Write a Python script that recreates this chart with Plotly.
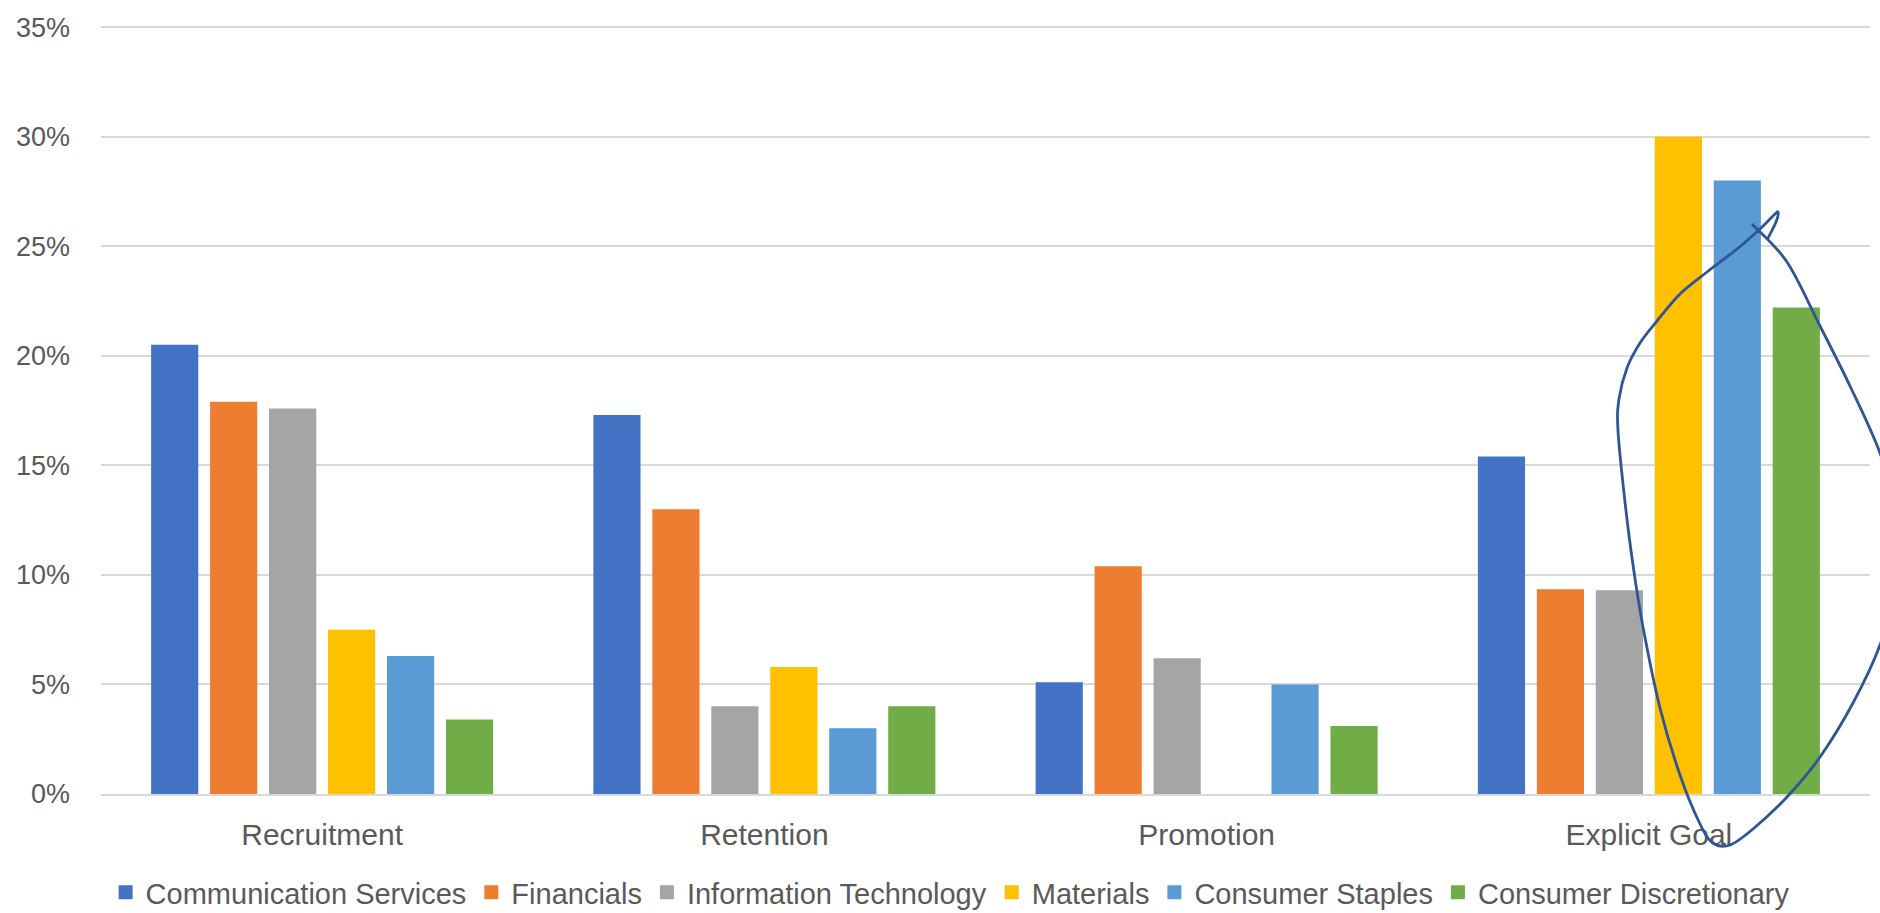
import plotly.graph_objects as go

categories = ["Recruitment", "Retention", "Promotion", "Explicit Goal"]
series_names = ["Communication Services", "Financials", "Information Technology",
                "Materials", "Consumer Staples", "Consumer Discretionary"]
communication_services = [0.205, 0.173, 0.051, 0.154]
financials = [0.179, 0.130, 0.104, 0.0935]
information_technology = [0.176, 0.040, 0.062, 0.093]
materials = [0.075, 0.058, 0.0, 0.300]
consumer_staples = [0.063, 0.030, 0.050, 0.280]
consumer_discretionary = [0.034, 0.040, 0.031, 0.222]
y_ticks = [0, 0.05, 0.10, 0.15, 0.20, 0.25, 0.30, 0.35]

colors = ["#4472C4", "#ED7D31", "#A5A5A5", "#FFC000", "#5B9BD5", "#70AD47"]
all_series = [communication_services, financials, information_technology,
              materials, consumer_staples, consumer_discretionary]

W, H = 1880, 913
L, R, T, B = 101, 10, 25, 119
PW, PH = W - L - R, H - T - B
YMAX = 0.351

fig = go.Figure()
for name, vals, c in zip(series_names, all_series, colors):
    fig.add_trace(go.Bar(name=name, x=categories, y=vals, showlegend=False,
                         marker=dict(color=c, line=dict(width=0))))
# legend entries with larger square swatches
for name, c in zip(series_names, colors):
    fig.add_trace(go.Scatter(name=name, x=[categories[0]], y=[None], mode="markers",
                             marker=dict(symbol="square", size=14, color=c),
                             hoverinfo="skip"))

# Hand-drawn loop annotation (pixel positions -> paper coordinates)
loop_px = [(1752, 224), (1787, 262), (1820, 326), (1850, 386), (1880, 453), (1900, 520),
           (1902, 570), (1880, 645), (1853, 703), (1820, 757), (1787, 797), (1753, 829),
           (1730, 845), (1713, 843), (1700, 824), (1680, 775), (1660, 708), (1643, 627),
           (1633, 565), (1625, 502), (1618, 431), (1619, 399), (1627, 368), (1640, 343),
           (1657, 321), (1680, 294), (1707, 272), (1737, 249), (1760, 229), (1773, 216),
           (1778, 212), (1776, 222), (1767, 240)]


def to_paper(p):
    return ((p[0] - L) / PW, (H - B - p[1]) / PH)


pts = [to_paper(p) for p in loop_px]
path = "M{:.5f},{:.5f}".format(*pts[0])
n = len(pts)
for i in range(n - 1):
    p0 = pts[i - 1] if i > 0 else pts[i]
    p1 = pts[i]
    p2 = pts[i + 1]
    p3 = pts[i + 2] if i + 2 < n else pts[i + 1]
    c1 = (p1[0] + (p2[0] - p0[0]) / 6, p1[1] + (p2[1] - p0[1]) / 6)
    c2 = (p2[0] - (p3[0] - p1[0]) / 6, p2[1] - (p3[1] - p1[1]) / 6)
    path += " C{:.5f},{:.5f} {:.5f},{:.5f} {:.5f},{:.5f}".format(c1[0], c1[1], c2[0], c2[1], p2[0], p2[1])

fig.add_shape(type="path", path=path, xref="paper", yref="paper",
              line=dict(color="#2F5597", width=2.8), layer="above")

font_family = "Liberation Sans, Arial, sans-serif"
fig.update_layout(
    width=W, height=H,
    margin=dict(l=L, r=R, t=T, b=B, autoexpand=False),
    paper_bgcolor="white", plot_bgcolor="white",
    barmode="group", bargap=0.2, bargroupgap=0.2,
    font=dict(family=font_family, size=28, color="#595959"),
    showlegend=True,
    legend=dict(orientation="h", x=0.480, xanchor="center", y=-0.128, yanchor="middle",
                font=dict(size=29, color="#595959"), itemwidth=30, traceorder="normal"),
    xaxis=dict(showgrid=False, showline=True, linecolor="#D9D9D9", linewidth=2,
               automargin=False, ticks="", ticklabelstandoff=13,
               tickfont=dict(size=30, color="#595959")),
    yaxis=dict(range=[0, YMAX], tickvals=y_ticks, tickformat=".0%", showgrid=True,
               automargin=False, gridcolor="#D9D9D9", gridwidth=2, zeroline=False,
               showline=False, ticks="", ticklabelstandoff=30,
               tickfont=dict(size=27, color="#595959")),
)

fig.write_html("out.html")
